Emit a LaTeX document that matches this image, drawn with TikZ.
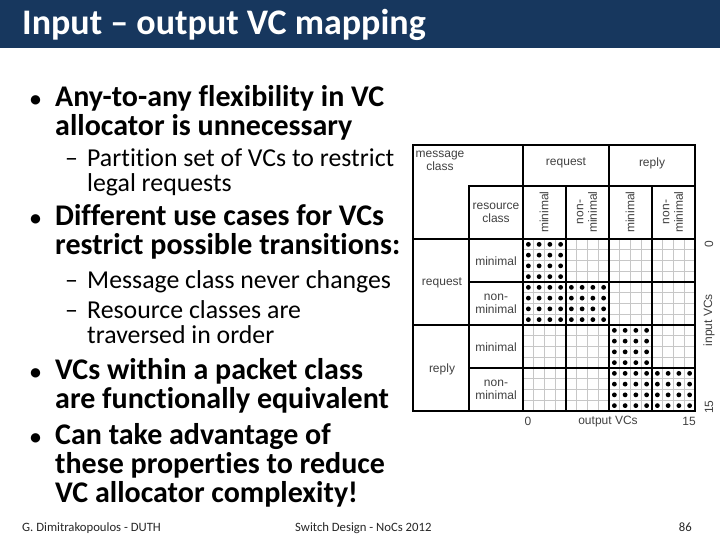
\documentclass[tikz,border=0pt]{standalone}
\usepackage{fontspec}
\setmainfont[Ligatures={NoCommon,NoContextual}]{Carlito}
\newfontfamily\figfont{Liberation Sans}
\definecolor{titlebar}{RGB}{23,55,94}
\tikzset{
	bullettext/.style={anchor=base west, inner sep=0pt,
			font=\fontsize{30}{29}\selectfont\bfseries},
	bulletdot/.style={anchor=base west, inner sep=0pt,
			font=\fontsize{22}{22}\selectfont\bfseries},
	subtext/.style={anchor=base west, inner sep=0pt,
			font=\fontsize{25.8}{25}\selectfont},
	footer/.style={anchor=base west, inner sep=0pt, text=black!85,
			font=\fontsize{12.7}{14}\selectfont},
	figlabel/.style={inner sep=0pt, align=center, text=black!75,
			font=\figfont\fontsize{12}{13.5}\selectfont},
	gridline/.style={draw=black!22, line width=0.9pt},
	groupline/.style={draw=black, line width=1.8pt, line cap=rect}
}

\begin{document}
\begin{tikzpicture}[x=1pt,y=-1pt]
	\useasboundingbox (0,0) rectangle (720,540);

	% title bar
	\fill[titlebar] (0,0) rectangle (720,48);
	\node[anchor=base west, inner sep=0pt, text=white,
		font=\fontsize{36}{40}\selectfont\bfseries] (title) at (22,34.5) {Input – output VC mapping};

	% bullets
	\node[bulletdot] (dot1) at (30,106.5) {•};
	\node[bullettext] (any1) at (55,106.5) {Any-to-any flexibility in VC};
	\node[bullettext] (any2) at (55,135.5) {allocator is unnecessary};
	\node[subtext] (dash1) at (65,166.5) {–};
	\node[subtext] (part1) at (87,166.5) {Partition set of VCs to restrict};
	\node[subtext] (part2) at (87,191.5) {legal requests};

	\node[bulletdot] (dot2) at (30,225.5) {•};
	\node[bullettext] (use1) at (55,225.5) {Different use cases for VCs};
	\node[bullettext] (use2) at (55,254.5) {restrict possible transitions:};
	\node[subtext] (dash2) at (65,288.5) {–};
	\node[subtext] (never) at (87,288.5) {Message class never changes};
	\node[subtext] (dash3) at (65,318.5) {–};
	\node[subtext] (order1) at (87,318.5) {Resource classes are};
	\node[subtext] (order2) at (87,343.5) {traversed in order};

	\node[bulletdot] (dot3) at (30,379.5) {•};
	\node[bullettext] (within1) at (55,379.5) {VCs within a packet class};
	\node[bullettext] (within2) at (55,408.5) {are functionally equivalent};
	\node[bulletdot] (dot4) at (30,444.5) {•};
	\node[bullettext] (adv1) at (55,444.5) {Can take advantage of};
	\node[bullettext] (adv2) at (55,473.5) {these properties to reduce};
	\node[bullettext] (adv3) at (55,502.5) {VC allocator complexity!};

	% footer
	\node[footer] (author) at (22,531) {G. Dimitrakopoulos - DUTH};
	\node[footer] (event) at (295,531) {Switch Design - NoCs 2012};
	\node[footer, anchor=base east] (page) at (692,531) {86};

	% VC mapping matrix: thin grid
	\foreach \i in {0,...,16} {
		\draw[gridline] (523+\i*10.75,239) -- (523+\i*10.75,411);
		\draw[gridline] (523,239+\i*10.75) -- (695,239+\i*10.75);
	}

	% allowed transitions
	\foreach \r/\cmin/\cmax in {0/0/3, 1/0/7, 2/8/11, 3/8/15}
	\foreach \rr in {0,...,3}
	\foreach \c in {\cmin,...,\cmax}
	\fill (523+\c*10.75+5.375,239+\r*43+\rr*10.75+5.375) circle (2.4);

	% group borders
	\draw[groupline] (413,145) rectangle (695,411);
	\draw[groupline] (469,186) -- (695,186);
	\draw[groupline] (413,239) -- (695,239);
	\draw[groupline] (469,282) -- (695,282);
	\draw[groupline] (413,325) -- (695,325);
	\draw[groupline] (469,368) -- (695,368);
	\draw[groupline] (469,186) -- (469,411);
	\draw[groupline] (523,145) -- (523,411);
	\draw[groupline] (566,186) -- (566,411);
	\draw[groupline] (609,145) -- (609,411);
	\draw[groupline] (652,186) -- (652,411);

	% header labels
	\node[figlabel] (msgclass) at (440,161) {message\\class};
	\node[figlabel] (reqhead) at (566,163) {request};
	\node[figlabel] (rephead) at (652,163) {reply};
	\node[figlabel] (resclass) at (496,213) {resource\\class};
	\node[figlabel, rotate=90] (reqmin) at (544,212) {minimal};
	\node[figlabel, rotate=90] (reqnon) at (587,212) {non-\\minimal};
	\node[figlabel, rotate=90] (repmin) at (630,212) {minimal};
	\node[figlabel, rotate=90] (repnon) at (673,212) {non-\\minimal};

	% row labels
	\node[figlabel] (reqrow) at (442,283) {request};
	\node[figlabel] (reqminrow) at (496,261) {minimal};
	\node[figlabel] (reqnonrow) at (496,304) {non-\\minimal};
	\node[figlabel] (reprow) at (442,369) {reply};
	\node[figlabel] (repminrow) at (496,347) {minimal};
	\node[figlabel] (repnonrow) at (496,390) {non-\\minimal};

	% axes
	\node[figlabel, rotate=90] (infirst) at (709,244) {0};
	\node[figlabel, rotate=90] (inputvcs) at (709,320) {input VCs};
	\node[figlabel, rotate=90] (inlast) at (709,407) {15};
	\node[figlabel] (outfirst) at (528,421) {0};
	\node[figlabel] (outputvcs) at (608,422) {output VCs};
	\node[figlabel] (outlast) at (689,421) {15};
\end{tikzpicture}
\end{document}
